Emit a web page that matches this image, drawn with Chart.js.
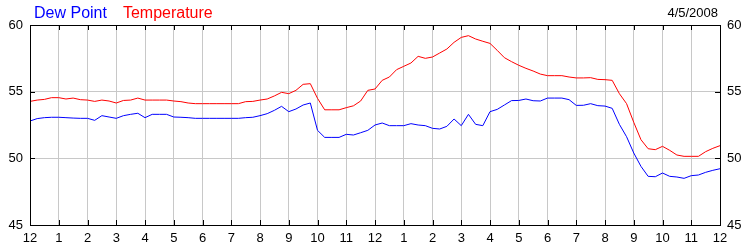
<!DOCTYPE html>
<html>
<head>
<meta charset="utf-8">
<script src="https://cdn.jsdelivr.net/npm/chart.js@4.4.1/dist/chart.umd.min.js"></script>
<style>
  body { margin: 0; background: #fff; }
  canvas { display: block; }
</style>
</head>
<body>
<canvas id="canvas-weather" width="750" height="250"></canvas>
<script>
// hour labels along the bottom (midnight to midnight)
var hourLabels = ['12', '1', '2', '3', '4', '5', '6', '7', '8', '9', '10', '11',
                  '12', '1', '2', '3', '4', '5', '6', '7', '8', '9', '10', '11', '12'];
var yTicks = [45, 50, 55, 60];
var seriesNames = ['Dew Point', 'Temperature'];
var chartDate = '4/5/2008';

// readings every 15 minutes, 0:00 -> 24:00
var temperature = [
    54.27, 54.37, 54.42, 54.55, 54.55, 54.45, 54.52, 54.4, 54.37, 54.27, 54.37, 54.3, 54.15, 54.34, 54.37, 54.52, 54.37,
    54.37, 54.37, 54.37, 54.3, 54.25, 54.15, 54.1, 54.1, 54.1, 54.1, 54.1, 54.1, 54.1, 54.25, 54.27, 54.37,
    54.45, 54.68, 54.95, 54.85, 55.1, 55.55, 55.6, 54.5, 53.64, 53.64, 53.64, 53.8, 53.94, 54.3, 55.1, 55.2,
    55.85, 56.1, 56.65, 56.9, 57.15, 57.65, 57.5, 57.6, 57.9, 58.2, 58.7, 59.07, 59.2, 58.95, 58.78, 58.62,
    58.1, 57.55, 57.25, 56.98, 56.75, 56.55, 56.32, 56.2, 56.2, 56.2, 56.1, 56.03, 56.03, 56.05, 55.92, 55.9,
    55.85, 54.85, 54.1, 52.7, 51.4, 50.72, 50.65, 50.9, 50.6, 50.25, 50.15, 50.15, 50.15, 50.5, 50.75, 50.95
];
var dewPoint = [
    52.8, 52.98, 53.05, 53.08, 53.08, 53.05, 53.02, 53.0, 53.0, 52.85, 53.2, 53.1, 53.0, 53.2, 53.3, 53.38, 53.05,
    53.3, 53.3, 53.3, 53.1, 53.08, 53.05, 53.0, 53.0, 53.0, 53.0, 53.0, 53.0, 53.0, 53.05, 53.08, 53.2,
    53.35, 53.6, 53.9, 53.5, 53.7, 54.0, 54.15, 52.1, 51.57, 51.57, 51.57, 51.8, 51.75, 51.92, 52.1, 52.5,
    52.65, 52.45, 52.45, 52.45, 52.6, 52.5, 52.45, 52.25, 52.2, 52.4, 52.95, 52.45, 53.3, 52.55, 52.45, 53.5,
    53.67, 54.0, 54.33, 54.34, 54.45, 54.32, 54.3, 54.52, 54.52, 54.52, 54.4, 53.97, 53.98, 54.1, 53.95, 53.92,
    53.75, 52.55, 51.62, 50.4, 49.4, 48.65, 48.62, 48.9, 48.65, 48.6, 48.5, 48.7, 48.75, 48.95, 49.1, 49.22
];

var FONT = '"Liberation Sans", Arial, sans-serif';

// pair each reading with its hour of the day
function toPoints(values) {
    return values.map(function(v, i) { return { x: i / 4, y: v }; });
}

// black frame, inward tick marks, legend text and date
var framePlugin = {
    id: 'frame',
    afterDraw: function(chart) {
        var ctx = chart.ctx;
        var a = chart.chartArea;
        var xs = chart.scales.x;
        var ys = chart.scales.y;
        ctx.save();
        ctx.strokeStyle = '#000';
        ctx.lineWidth = 1;
        ctx.beginPath();
        xs.ticks.forEach(function(t) {
            var px = Math.round(xs.getPixelForValue(t.value)) + 0.5;
            ctx.moveTo(px, a.top); ctx.lineTo(px, a.top + 5);
            ctx.moveTo(px, a.bottom); ctx.lineTo(px, a.bottom - 5);
        });
        ys.ticks.forEach(function(t) {
            var py = Math.round(ys.getPixelForValue(t.value)) + 0.5;
            ctx.moveTo(a.left, py); ctx.lineTo(a.left + 5, py);
            ctx.moveTo(a.right, py); ctx.lineTo(a.right - 5, py);
        });
        ctx.stroke();
        ctx.strokeRect(Math.round(a.left) + 0.5, Math.round(a.top) + 0.5,
                       Math.round(a.right - a.left), Math.round(a.bottom - a.top));

        // legend
        ctx.font = '16px ' + FONT;
        ctx.textBaseline = 'alphabetic';
        ctx.textAlign = 'left';
        var x = 34;
        chart.data.datasets.forEach(function(ds) {
            ctx.fillStyle = ds.borderColor;
            ctx.fillText(ds.label, x, 18);
            x += ctx.measureText(ds.label).width + 16;
        });
        // date
        ctx.font = '13px ' + FONT;
        ctx.fillStyle = '#000';
        ctx.textAlign = 'right';
        ctx.fillText(chartDate, 718, 17);
        ctx.restore();
    }
};

var ctx = document.getElementById('canvas-weather').getContext('2d');
var weatherChart = new Chart(ctx, {
    type: 'line',
    data: {
        datasets: [{
            label: seriesNames[0],
            data: toPoints(dewPoint),
            borderColor: '#0000ff',
            borderWidth: 1,
            pointRadius: 0,
            fill: false
        }, {
            label: seriesNames[1],
            data: toPoints(temperature),
            borderColor: '#ff0000',
            borderWidth: 1,
            pointRadius: 0,
            fill: false
        }]
    },
    options: {
        responsive: false,
        animation: false,
        devicePixelRatio: 1,
        layout: { padding: { top: 25, left: 0, right: 0, bottom: 0 } },
        plugins: {
            legend: { display: false },
            tooltip: { enabled: false }
        },
        scales: {
            x: {
                type: 'linear',
                min: 0,
                max: 24,
                border: { display: false },
                grid: { color: '#c8c8c8', drawTicks: false },
                ticks: {
                    stepSize: 1,
                    autoSkip: false,
                    maxRotation: 0,
                    padding: 6,
                    color: '#000',
                    font: { family: FONT, size: 13 },
                    callback: function(v) { return hourLabels[v]; }
                },
                afterFit: function(scale) { scale.height = 25; }
            },
            y: {
                position: 'left',
                min: yTicks[0],
                max: yTicks[yTicks.length - 1],
                border: { display: false },
                grid: { color: '#c8c8c8', drawTicks: false },
                afterBuildTicks: function(scale) {
                    scale.ticks = yTicks.map(function(v) { return { value: v }; });
                },
                ticks: {
                    padding: 7,
                    color: '#000',
                    font: { family: FONT, size: 13 }
                },
                afterFit: function(scale) { scale.width = 30; }
            },
            y2: {
                position: 'right',
                min: yTicks[0],
                max: yTicks[yTicks.length - 1],
                border: { display: false },
                grid: { display: false, drawTicks: false },
                afterBuildTicks: function(scale) {
                    scale.ticks = yTicks.map(function(v) { return { value: v }; });
                },
                ticks: {
                    padding: 7,
                    color: '#000',
                    font: { family: FONT, size: 13 }
                },
                afterFit: function(scale) { scale.width = 30; }
            }
        }
    },
    plugins: [framePlugin]
});
</script>
</body>
</html>
